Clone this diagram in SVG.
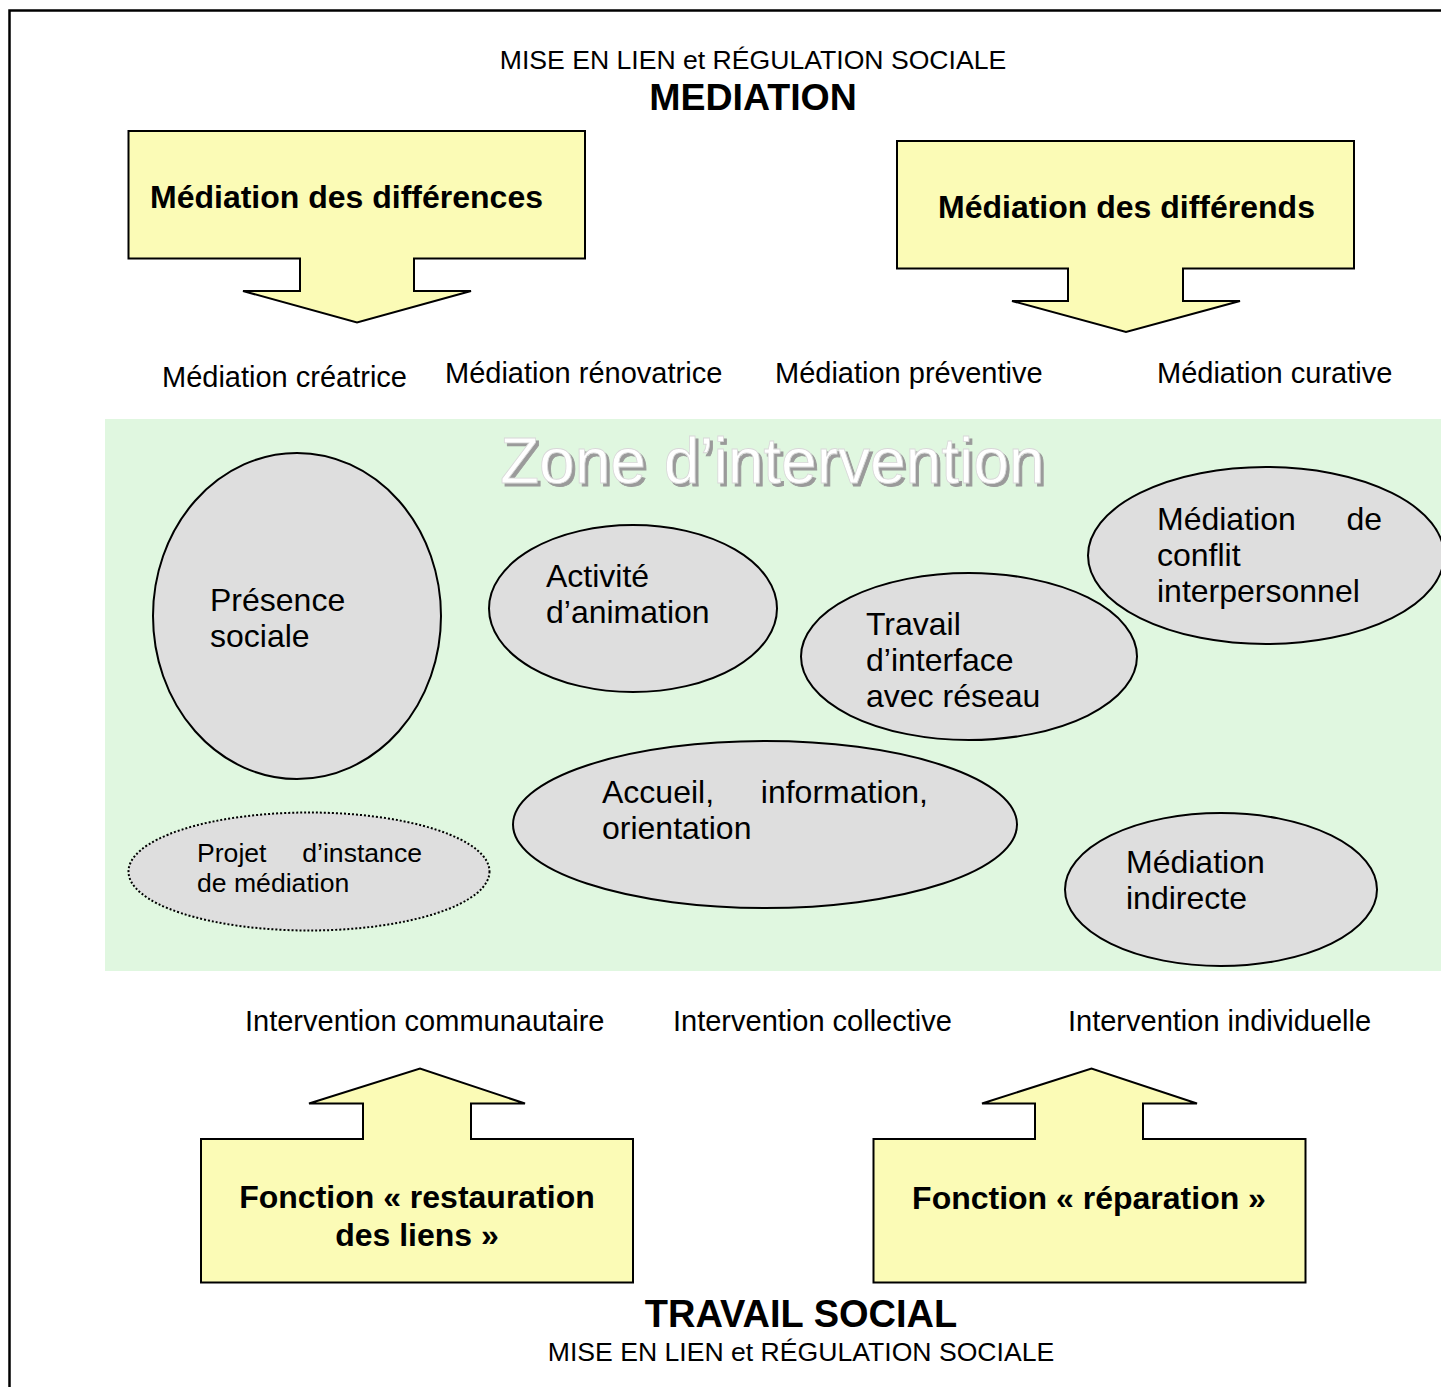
<svg xmlns="http://www.w3.org/2000/svg" width="1441" height="1387" viewBox="0 0 1441 1387">
<defs>
<filter id="shadow" x="-5%" y="-20%" width="110%" height="140%">
<feOffset in="SourceAlpha" dx="3" dy="3" result="off"/>
<feFlood flood-color="#9a9a9a"/>
<feComposite in2="off" operator="in" result="sh"/>
<feMerge><feMergeNode in="sh"/><feMergeNode in="SourceGraphic"/></feMerge>
</filter>
</defs>
<style>
text{font-family:"Liberation Sans",Arial,sans-serif;fill:#000}
.t12{font-size:26.6px}
.t13{font-size:29px}
.t14{font-size:32px}
.b{font-weight:bold}
.callout{fill:#fbfbb6;stroke:#000;stroke-width:2;stroke-linejoin:miter}
.ell{fill:#dedede;stroke:#000;stroke-width:2}
.dot{fill:#dedede;stroke:#000;stroke-width:2;stroke-dasharray:2 2}
</style>
<rect x="0" y="0" width="1441" height="1387" fill="#fff"/>
<path d="M9.5,1387 V10.5 H1441" fill="none" stroke="#000" stroke-width="2.5"/>

<g id="title-top">
<text class="t12" x="753" y="69" text-anchor="middle">MISE EN LIEN et RÉGULATION SOCIALE</text>
<text class="b" x="753" y="110" text-anchor="middle" font-size="37.5">MEDIATION</text>
</g>

<g id="mediation-differences">
<path class="callout" d="M128.5,131 H585 V258.5 H414 V291 H471 L357,322.5 L243,291 H300 V258.5 H128.5 Z"/>
<text class="t14 b" x="150" y="208">Médiation des différences</text>
</g>

<g id="mediation-differends">
<path class="callout" d="M897,141 H1354 V268.5 H1183 V301 H1240 L1126,332 L1012,301 H1068 V268.5 H897 Z"/>
<text class="t14 b" x="938" y="218">Médiation des différends</text>
</g>

<g id="types-mediation">
<text class="t13" x="162" y="387">Médiation créatrice</text>
<text class="t13" x="445" y="383">Médiation rénovatrice</text>
<text class="t13" x="775" y="383">Médiation préventive</text>
<text class="t13" x="1157" y="383">Médiation curative</text>
</g>

<g id="zone-intervention">
<rect x="105" y="419" width="1336" height="552" fill="#e0f7e0"/>
<text x="500" y="483" font-size="64" filter="url(#shadow)" style="fill:#fff;stroke:#d8d8d8;stroke-width:0.8">Zone d’intervention</text>
</g>

<g id="presence-sociale">
<ellipse class="ell" cx="297" cy="616" rx="144" ry="163"/>
<text class="t14" x="210" y="611">Présence</text>
<text class="t14" x="210" y="647">sociale</text>
</g>

<g id="activite-animation">
<ellipse class="ell" cx="633" cy="608.5" rx="144" ry="83.5"/>
<text class="t14" x="546" y="587">Activité</text>
<text class="t14" x="546" y="623">d’animation</text>
</g>

<g id="travail-interface">
<ellipse class="ell" cx="969" cy="656.5" rx="168" ry="83.5"/>
<text class="t14" x="866" y="635">Travail</text>
<text class="t14" x="866" y="671">d’interface</text>
<text class="t14" x="866" y="707">avec réseau</text>
</g>

<g id="mediation-conflit">
<ellipse class="ell" cx="1266" cy="555.5" rx="178" ry="88.5"/>
<text class="t14" x="1157" y="530">Médiation</text>
<text class="t14" x="1382" y="530" text-anchor="end">de</text>
<text class="t14" x="1157" y="566">conflit</text>
<text class="t14" x="1157" y="602">interpersonnel</text>
</g>

<g id="accueil-information">
<ellipse class="ell" cx="765" cy="824.5" rx="252" ry="83.5"/>
<text class="t14" x="602" y="803">Accueil,</text>
<text class="t14" x="928" y="803" text-anchor="end">information,</text>
<text class="t14" x="602" y="839">orientation</text>
</g>

<g id="projet-instance">
<ellipse class="dot" cx="309" cy="871.5" rx="180.5" ry="59"/>
<text class="t12" x="197" y="862">Projet</text>
<text class="t12" x="422" y="862" text-anchor="end">d’instance</text>
<text class="t12" x="197" y="892">de médiation</text>
</g>

<g id="mediation-indirecte">
<ellipse class="ell" cx="1221" cy="889.5" rx="156" ry="76.5"/>
<text class="t14" x="1126" y="873">Médiation</text>
<text class="t14" x="1126" y="909">indirecte</text>
</g>

<g id="types-intervention">
<text class="t13" x="245" y="1031">Intervention communautaire</text>
<text class="t13" x="673" y="1031">Intervention collective</text>
<text class="t13" x="1068" y="1031">Intervention individuelle</text>
</g>

<g id="fonction-restauration">
<path class="callout" d="M201,1139 H363 V1103.5 H309 L420,1068.5 L525,1103.5 H471 V1139 H633 V1282.5 H201 Z"/>
<text class="t14 b" x="417" y="1208" text-anchor="middle">Fonction « restauration</text>
<text class="t14 b" x="417" y="1246" text-anchor="middle">des liens »</text>
</g>

<g id="fonction-reparation">
<path class="callout" d="M873.5,1139 H1035 V1103.5 H982 L1091.5,1068.5 L1197,1103.5 H1143 V1139 H1305.5 V1282.5 H873.5 Z"/>
<text class="t14 b" x="1089" y="1209" text-anchor="middle">Fonction « réparation »</text>
</g>

<g id="title-bottom">
<text class="b" x="801" y="1327" text-anchor="middle" font-size="38">TRAVAIL SOCIAL</text>
<text class="t12" x="801" y="1361" text-anchor="middle">MISE EN LIEN et RÉGULATION SOCIALE</text>
</g>

<g id="connectors"></g>
</svg>
